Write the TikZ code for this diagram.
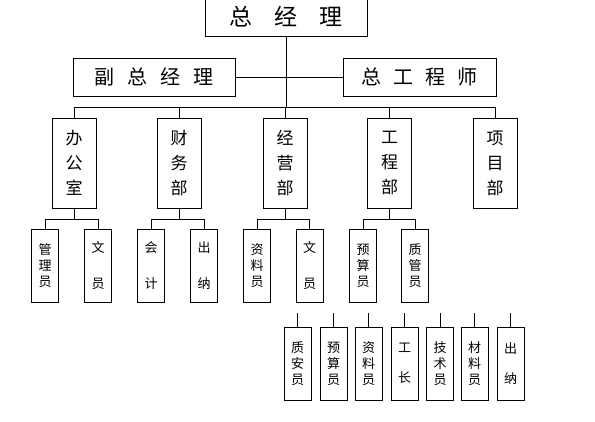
\documentclass[tikz,border=0pt]{standalone}
\usepackage{fontspec}
\setmainfont{Noto Sans CJK SC}
\begin{document}
\begin{tikzpicture}[x=1pt,y=-1pt, line width=0.8pt,
 box/.style={draw, inner sep=0pt, align=center},
 big/.style={box, minimum height=38pt, font=\fontsize{23}{23}\selectfont},
 mid/.style={box, minimum height=38pt, font=\fontsize{20}{20}\selectfont},
 dept/.style={box, minimum width=44pt, minimum height=90pt, font=\fontsize{17}{25}\selectfont},
 sub/.style={box, minimum width=27pt, minimum height=73pt, font=\fontsize{13}{16}\selectfont},
 subw/.style={sub, font=\fontsize{13}{36}\selectfont},
 subv/.style={sub, font=\fontsize{13}{30}\selectfont},
]
\useasboundingbox (0,0) rectangle (595,421);
% top level
\node[big, minimum width=162pt] (zjl) at (286,17) {总\hspace{22pt}经\hspace{22pt}理};
\node[mid, minimum width=162pt] (fzjl) at (154,77) {副\hspace{13pt}总\hspace{13pt}经\hspace{13pt}理};
\node[mid, minimum width=153pt] (zgcs) at (419.5,77) {总\hspace{12pt}工\hspace{12pt}程\hspace{12pt}师};
% departments
\node[dept] (d1) at (74,163) {办\\公\\室};
\node[dept] (d2) at (179,163) {财\\务\\部};
\node[dept] (d3) at (285,163) {经\\营\\部};
\node[dept] (d4) at (389.5,163) {工\\程\\部};
\node[dept] (d5) at (495,163) {项\\目\\部};
% sub boxes
\node[sub]  (s11) at (45,265.5) {管\\理\\员};
\node[subw] (s12) at (98,265.5) {文\\员};
\node[subw] (s21) at (151,265.5) {会\\计};
\node[subw] (s22) at (204,265.5) {出\\纳};
\node[sub]  (s31) at (257,265.5) {资\\料\\员};
\node[subw] (s32) at (309.5,265.5) {文\\员};
\node[sub]  (s41) at (363,265.5) {预\\算\\员};
\node[sub]  (s42) at (415,265.5) {质\\管\\员};
% bottom row
\node[sub]  (b1) at (297.5,363.5) {质\\安\\员};
\node[sub]  (b2) at (333.5,363.5) {预\\算\\员};
\node[sub]  (b3) at (368.5,363.5) {资\\料\\员};
\node[subv] (b4) at (404.5,363.5) {工\\长};
\node[sub]  (b5) at (440,363.5) {技\\术\\员};
\node[sub]  (b6) at (474.5,363.5) {材\\料\\员};
\node[subv] (b7) at (510.5,363.5) {出\\纳};
% connectors
\coordinate (bus) at (0,107);
\coordinate (sbus) at (0,219);
\draw (fzjl.east) -- (zgcs.west);
\draw (zjl.south) -- (zjl.south |- bus);
\draw (d1.north) |- (d5.north |- bus) -- (d5.north);
\foreach \d in {d2,d3,d4} \draw (\d.north) -- (\d.north |- bus);
\foreach \d/\a/\b in {d1/s11/s12, d2/s21/s22, d3/s31/s32, d4/s41/s42} {
  \draw (\d.south) -- (\d.south |- sbus);
  \draw (\a.north) |- (\b.north |- sbus) -- (\b.north);
}
\foreach \b in {b1,b2,b3,b4,b5,b6,b7} \draw (\b.north) -- ++(0,-14);
\end{tikzpicture}
\end{document}
